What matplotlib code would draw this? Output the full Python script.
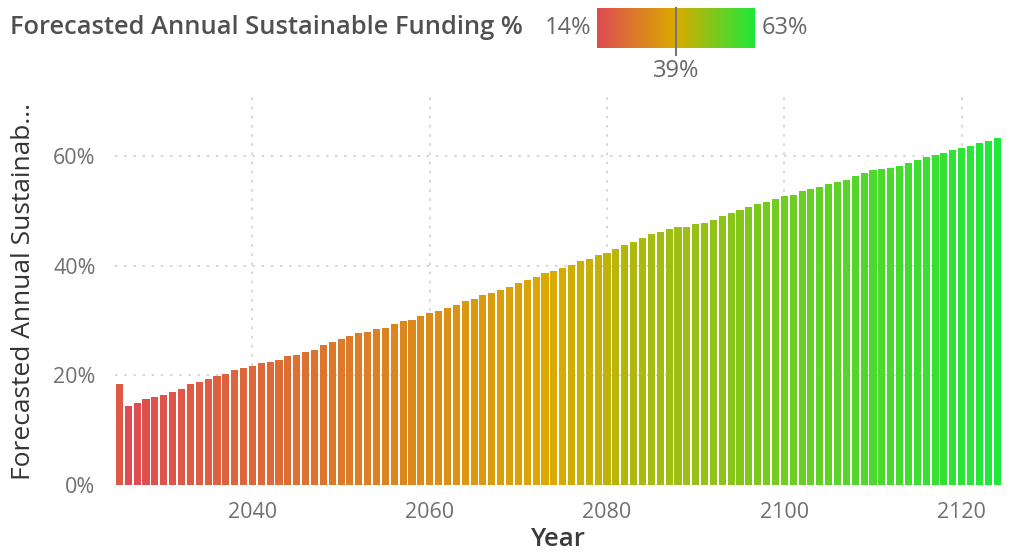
import matplotlib
matplotlib.use("Agg")
import matplotlib.pyplot as plt
import numpy as np
from matplotlib.colors import LinearSegmentedColormap, Normalize
from matplotlib.ticker import FuncFormatter

plt.rcParams['font.family'] = ['Open Sans', 'DejaVu Sans']

years = list(range(2025, 2125))
funding_pct = [
    18.4, 14.4, 15.0, 15.7, 16.1, 16.5, 17.0, 17.6, 18.4, 18.8,
    19.3, 19.8, 20.3, 20.9, 21.4, 21.8, 22.2, 22.5, 22.9, 23.5,
    23.8, 24.3, 24.7, 25.5, 26.1, 26.6, 27.1, 27.7, 27.9, 28.4,
    28.7, 29.4, 30.0, 30.1, 30.8, 31.3, 31.8, 32.3, 32.9, 33.6,
    34.0, 34.6, 35.1, 35.6, 36.2, 36.9, 37.4, 38.0, 38.6, 39.0,
    39.6, 40.2, 40.9, 41.3, 42.0, 42.4, 43.0, 43.8, 44.4, 45.0,
    45.8, 46.2, 46.7, 47.0, 47.1, 47.6, 47.8, 48.4, 49.0, 49.7,
    50.2, 50.7, 51.2, 51.7, 52.2, 52.7, 53.0, 53.6, 54.1, 54.4,
    55.0, 55.3, 55.7, 56.3, 57.0, 57.5, 57.7, 57.9, 58.2, 58.8,
    59.3, 59.8, 60.2, 60.6, 61.1, 61.5, 61.9, 62.4, 62.8, 63.3,
]
y_ticks = [0, 20, 40, 60]
x_ticks = [2040, 2060, 2080, 2100, 2120]
title_text = "Forecasted Annual Sustainable Funding %"
y_label = "Forecasted Annual Sustainab..."
x_label = "Year"

gradient_colors = ['#DE4B52', '#DBAA00', '#1EE83A']

W, H = 1012, 555
fig = plt.figure(figsize=(W / 100, H / 100), dpi=100)

vmin, vmax = min(funding_pct), max(funding_pct)
vmid = (vmin + vmax) / 2
cmap = LinearSegmentedColormap.from_list('rdylgn', gradient_colors)
norm = Normalize(vmin=vmin, vmax=vmax)

# main chart area
ax = fig.add_axes([115 / W, 1 - 485 / H, (1002 - 115) / W, (485 - 97) / H])
ax.bar(years, funding_pct, width=0.8, color=cmap(norm(np.array(funding_pct))), zorder=2)
ax.set_xlim(2024.5, 2124.55)
ax.set_ylim(0, 70.8)
ax.set_yticks(y_ticks)
ax.set_xticks(x_ticks)
ax.yaxis.set_major_formatter(FuncFormatter(lambda v, p: f"{v:.0f}%"))
for s in ax.spines.values():
    s.set_visible(False)
ax.tick_params(length=0, labelsize=15.5, colors='#707070')
ax.tick_params(axis='y', pad=14)
ax.tick_params(axis='x', pad=12)
ax.grid(True, color='#cfcfcf', linestyle=(0, (1.5, 4)), linewidth=1.2, zorder=0)
ax.set_axisbelow(True)
ax.set_ylabel(y_label, fontsize=19, color='#333333', labelpad=12)
ax.set_xlabel(x_label, fontsize=18.5, color='#3a3a3a', fontweight='semibold', labelpad=3)

# title and color legend
fig.text(10 / W, 1 - 27 / H, title_text, fontsize=18.4, fontweight='semibold',
         color='#505050', va='center', ha='left')
lax = fig.add_axes([597 / W, 1 - 48 / H, (755 - 597) / W, 40 / H])
lax.imshow(np.linspace(0, 1, 256)[None, :], aspect='auto', cmap=cmap,
           extent=[vmin, vmax, 0, 1])
lax.set_xlim(vmin, vmax)
lax.set_ylim(0, 1)
lax.axis('off')
mid_x = (597 + (vmid - vmin) / (vmax - vmin) * (755 - 597)) / W
fig.add_artist(plt.Line2D([mid_x, mid_x], [1 - 8 / H, 1 - 55 / H], color='#777777', lw=1.5))
fig.text(591 / W, 1 - 28 / H, f"{vmin:.0f}%", fontsize=17, color='#666666', va='center', ha='right')
fig.text(762 / W, 1 - 28 / H, f"{vmax:.0f}%", fontsize=17, color='#666666', va='center', ha='left')
fig.text(mid_x, 1 - 71 / H, f"{vmid:.0f}%", fontsize=17, color='#666666', va='center', ha='center')

fig.savefig('out.png', dpi=100)
